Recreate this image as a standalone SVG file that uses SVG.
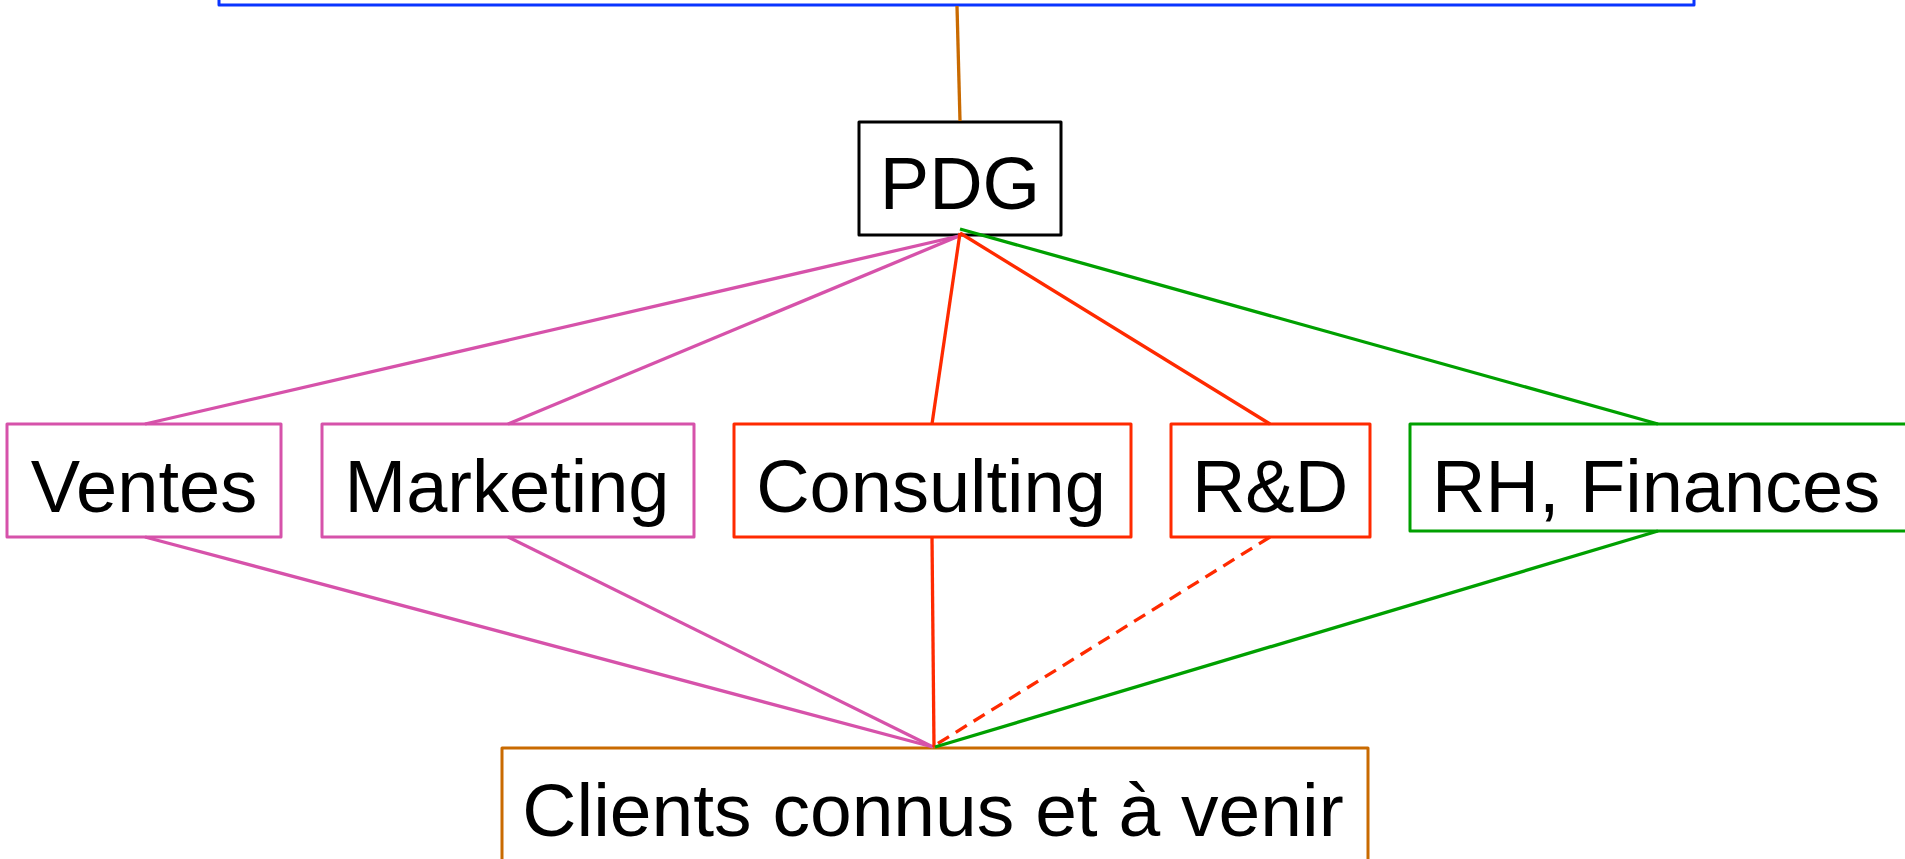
<svg xmlns="http://www.w3.org/2000/svg" width="1905" height="859" viewBox="0 0 1905 859">
  <style>
    .box { fill: #ffffff; stroke-width: 3; stroke-linejoin: round; }
    .lbl { font-family: "Liberation Sans", Arial, sans-serif; font-size: 74px; fill: #000000; text-anchor: middle; }
    .link { fill: none; stroke-width: 3.3; stroke-linecap: butt; }
    .pink { stroke: #d652aa; }
    .red { stroke: #ff2a00; }
    .green { stroke: #00a000; }
    .orange { stroke: #c96a00; }
    .dash { stroke-dasharray: 13 8; }
  </style>

  <!-- top container, mostly above the view -->
  <g id="top">
    <rect class="box" x="219" y="-100" width="1475" height="105" stroke="#0a35ff"/>
  </g>

  <g id="pdg">
    <rect class="box" x="859" y="122" width="202" height="113" stroke="#000000"/>
    <text class="lbl" x="960" y="209">PDG</text>
  </g>

  <g id="ventes">
    <rect class="box" x="7" y="424" width="274" height="113" stroke="#d652aa"/>
    <text class="lbl" x="144" y="512">Ventes</text>
  </g>

  <g id="marketing">
    <rect class="box" x="322" y="424" width="372" height="113" stroke="#d652aa"/>
    <text class="lbl" x="507" y="512">Marketing</text>
  </g>

  <g id="consulting">
    <rect class="box" x="734" y="424" width="397" height="113" stroke="#ff2a00"/>
    <text class="lbl" x="931" y="512">Consulting</text>
  </g>

  <g id="rd">
    <rect class="box" x="1171" y="424" width="199" height="113" stroke="#ff2a00"/>
    <text class="lbl" x="1270" y="512">R&amp;D</text>
  </g>

  <g id="rh-finances">
    <rect class="box" x="1410" y="424" width="520" height="107" stroke="#00a000"/>
    <text class="lbl" x="1432" y="512" style="text-anchor:start">RH, Finances</text>
  </g>

  <g id="clients">
    <rect class="box" x="502" y="748" width="866" height="140" stroke="#c96a00"/>
    <text class="lbl" x="933" y="836" style="font-size:75px">Clients connus et à venir</text>
  </g>

  <!-- connectors, drawn over the node borders -->
  <g id="connectors">
    <line class="link orange" x1="957" y1="6" x2="960" y2="121"/>
    <line class="link pink" x1="959" y1="236" x2="145" y2="424"/>
    <line class="link pink" x1="959" y1="236" x2="508" y2="424"/>
    <line class="link red" x1="960" y1="233" x2="932" y2="424"/>
    <line class="link red" x1="960" y1="233" x2="1270" y2="424"/>
    <line class="link green" x1="960" y1="229" x2="1658" y2="424"/>
    <line class="link pink" x1="145" y1="537" x2="933" y2="747"/>
    <line class="link pink" x1="508" y1="537" x2="933" y2="747"/>
    <line class="link red" x1="932" y1="537" x2="934" y2="747"/>
    <line class="link red dash" x1="1270" y1="537" x2="937" y2="744"/>
    <line class="link green" x1="1658" y1="531" x2="935" y2="747"/>
  </g>
</svg>
